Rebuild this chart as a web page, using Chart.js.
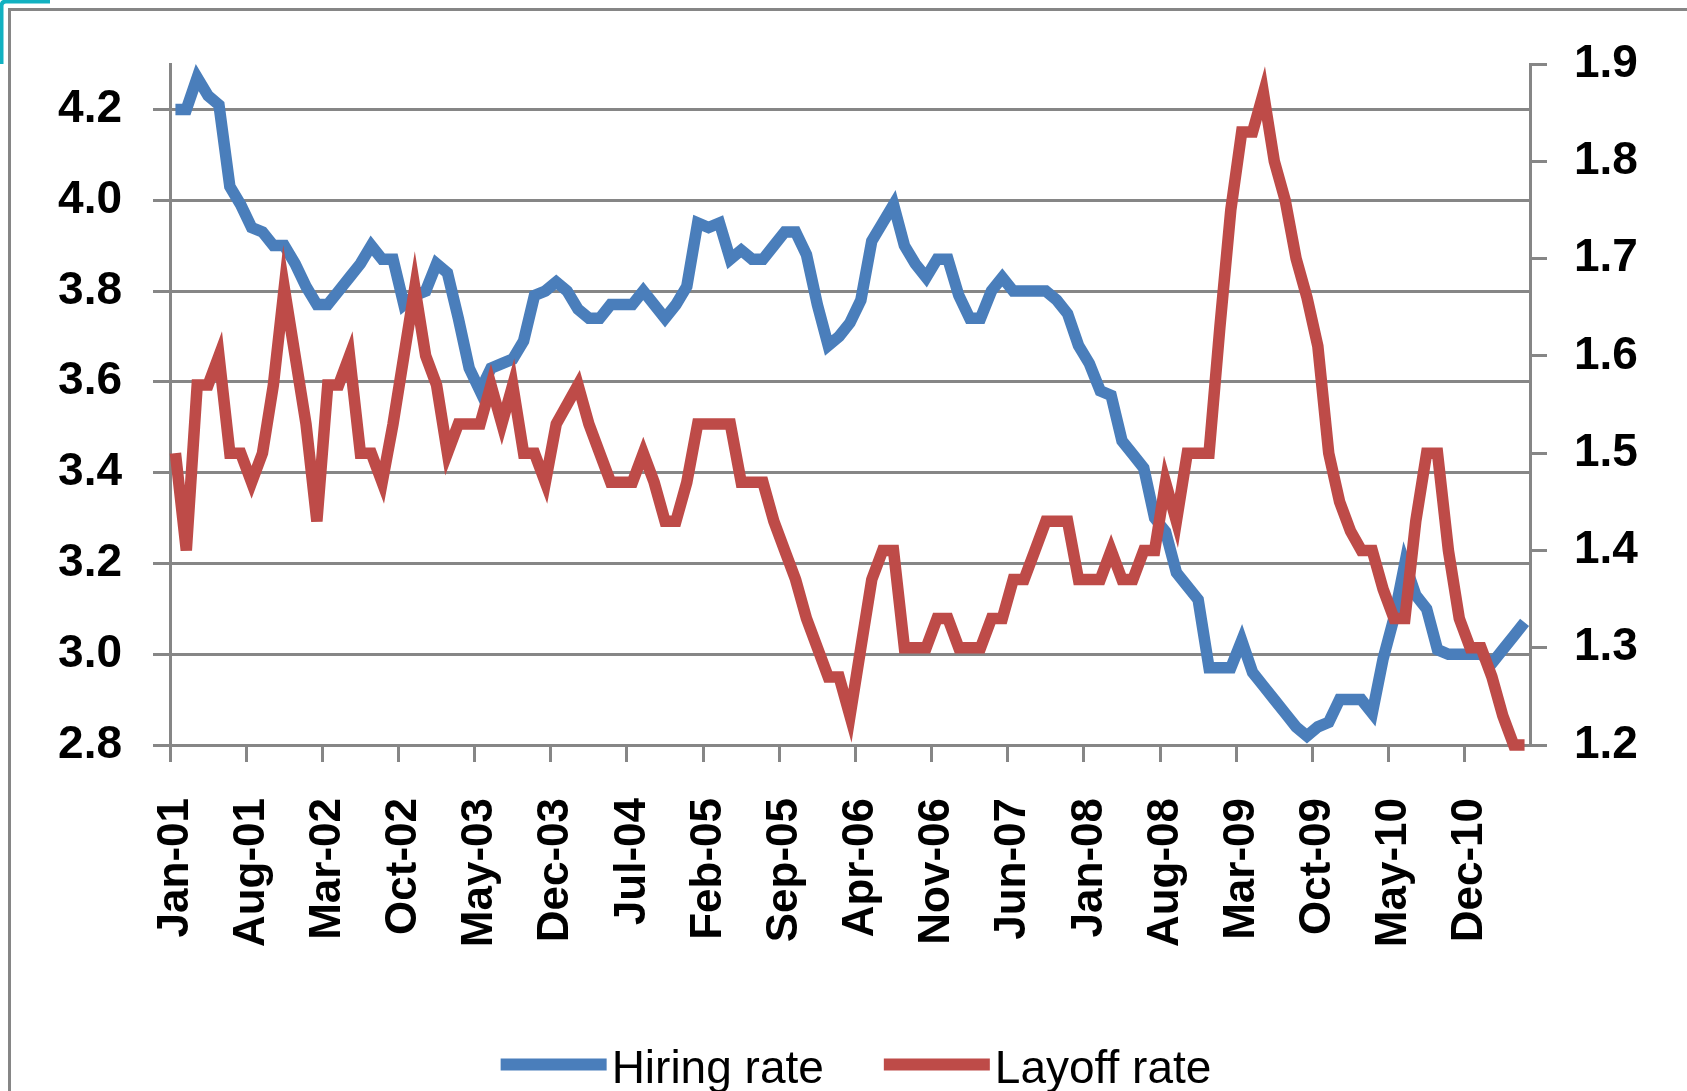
<!DOCTYPE html>
<html>
<head>
<meta charset="utf-8">
<script src="https://cdn.jsdelivr.net/npm/chart.js@4/dist/chart.umd.min.js"></script>
<style>
  html, body { margin: 0; padding: 0; background: #fff; }
  canvas { display: block; }
</style>
</head>
<body>
<canvas id="grafica" width="1687" height="1091" style="width:1687px;height:1091px"></canvas>
<script>
// monthly categories, Jan-01 .. May-11
const monthNames = ['Jan', 'Feb', 'Mar', 'Apr', 'May', 'Jun', 'Jul', 'Aug', 'Sep', 'Oct', 'Nov', 'Dec'];
const labels = [];
for (let y = 1; y <= 11; y++) {
    for (let m = 0; m < 12; m++) {
        if (y === 11 && m > 4) break;
        labels.push(monthNames[m] + '-' + String(y).padStart(2, '0'));
    }
}

const hiringRate = [
    4.20, 4.20, 4.27, 4.23, 4.21, 4.03, 3.99, 3.94, 3.93, 3.90,
    3.90, 3.86, 3.81, 3.77, 3.77, 3.80, 3.83, 3.86, 3.90, 3.87,
    3.87, 3.77, 3.79, 3.80, 3.86, 3.84, 3.74, 3.63, 3.58, 3.63,
    3.64, 3.65, 3.69, 3.79, 3.80, 3.82, 3.80, 3.76, 3.74, 3.74,
    3.77, 3.77, 3.77, 3.80, 3.77, 3.74, 3.77, 3.81, 3.95, 3.94,
    3.95, 3.87, 3.89, 3.87, 3.87, 3.90, 3.93, 3.93, 3.88, 3.77,
    3.68, 3.70, 3.73, 3.78, 3.91, 3.95, 3.99, 3.90, 3.86, 3.83,
    3.87, 3.87, 3.79, 3.74, 3.74, 3.80, 3.83, 3.80, 3.80, 3.80,
    3.80, 3.78, 3.75, 3.68, 3.64, 3.58, 3.57, 3.47, 3.44, 3.41,
    3.30, 3.27, 3.18, 3.15, 3.12, 2.97, 2.97, 2.97, 3.03, 2.96,
    2.93, 2.90, 2.87, 2.84, 2.82, 2.84, 2.85, 2.90, 2.90, 2.90,
    2.87, 2.99, 3.08, 3.20, 3.13, 3.10, 3.01, 3.00, 3.00, 3.00,
    3.00, 2.98, 3.01, 3.04, 3.07
];

const layoffRate = [
    1.50, 1.40, 1.57, 1.57, 1.60, 1.50, 1.50, 1.47, 1.50, 1.57,
    1.67, 1.60, 1.53, 1.43, 1.57, 1.57, 1.60, 1.50, 1.50, 1.47,
    1.53, 1.60, 1.67, 1.60, 1.57, 1.50, 1.53, 1.53, 1.53, 1.57,
    1.53, 1.57, 1.50, 1.50, 1.47, 1.53, 1.55, 1.57, 1.53, 1.50,
    1.47, 1.47, 1.47, 1.50, 1.47, 1.43, 1.43, 1.47, 1.53, 1.53,
    1.53, 1.53, 1.47, 1.47, 1.47, 1.43, 1.40, 1.37, 1.33, 1.30,
    1.27, 1.27, 1.23, 1.30, 1.37, 1.40, 1.40, 1.30, 1.30, 1.30,
    1.33, 1.33, 1.30, 1.30, 1.30, 1.33, 1.33, 1.37, 1.37, 1.40,
    1.43, 1.43, 1.43, 1.37, 1.37, 1.37, 1.40, 1.37, 1.37, 1.40,
    1.40, 1.47, 1.43, 1.50, 1.50, 1.50, 1.63, 1.75, 1.83, 1.83,
    1.87, 1.80, 1.76, 1.70, 1.66, 1.61, 1.50, 1.45, 1.42, 1.40,
    1.40, 1.36, 1.33, 1.33, 1.43, 1.50, 1.50, 1.40, 1.33, 1.30,
    1.30, 1.27, 1.23, 1.20, 1.20
];

const leftTicks = { min: 2.8, max: 4.3, step: 0.2 };
const rightTicks = { min: 1.2, max: 1.9, step: 0.1 };
const labelEvery = 7;

const gray = '#868686';
const font = '"Liberation Sans", Arial, sans-serif';

// outer frame of the chart object + the teal selection corner
const framePlugin = {
    id: 'frame',
    beforeDraw(chart) {
        const ctx = chart.ctx;
        ctx.save();
        ctx.fillStyle = '#fff';
        ctx.fillRect(0, 0, chart.width, chart.height);
        ctx.strokeStyle = gray;
        ctx.lineWidth = 3;
        ctx.beginPath();
        ctx.moveTo(9.5, chart.height);
        ctx.lineTo(9.5, 9.5);
        ctx.lineTo(chart.width, 9.5);
        ctx.stroke();
        ctx.strokeStyle = '#12b1c1';
        ctx.lineWidth = 4;
        ctx.beginPath();
        ctx.moveTo(1.5, 64);
        ctx.lineTo(1.5, 6);
        ctx.quadraticCurveTo(1.5, 1.5, 6, 1.5);
        ctx.lineTo(50, 1.5);
        ctx.stroke();
        ctx.restore();
    }
};

// legend drawn as Excel does it: long line sample and tight text
const legendPlugin = {
    id: 'lineLegend',
    afterDraw(chart) {
        const ctx = chart.ctx;
        const area = chart.chartArea;
        ctx.save();
        ctx.font = '46px ' + font;
        const sample = 106, gapText = 5, gapItem = 60;
        const items = chart.data.datasets.map(ds => ({
            text: ds.label, color: ds.borderColor, w: ctx.measureText(ds.label).width
        }));
        let total = gapItem * (items.length - 1);
        items.forEach(it => { total += sample + gapText + it.w; });
        let x = (area.left + area.right) / 2 + 6 - total / 2;
        const lineY = 1064.5, baseY = 1083;
        items.forEach(it => {
            ctx.strokeStyle = it.color;
            ctx.lineWidth = 12;
            ctx.beginPath();
            ctx.moveTo(x, lineY);
            ctx.lineTo(x + sample, lineY);
            ctx.stroke();
            ctx.fillStyle = '#000';
            ctx.textBaseline = 'alphabetic';
            ctx.textAlign = 'left';
            ctx.fillText(it.text, x + sample + gapText, baseY);
            x += sample + gapText + it.w + gapItem;
        });
        ctx.restore();
    }
};

const graph = document.querySelector('#grafica');

const data = {
    labels: labels,
    datasets: [
        {
            label: 'Hiring rate',
            data: hiringRate,
            yAxisID: 'y',
            borderColor: '#4a7ebb',
            backgroundColor: '#4a7ebb',
            borderWidth: 11.5,
            pointRadius: 0,
            tension: 0,
            clip: false,
            order: 2
        },
        {
            label: 'Layoff rate',
            data: layoffRate,
            yAxisID: 'y1',
            borderColor: '#be4b48',
            backgroundColor: '#be4b48',
            borderWidth: 11.5,
            pointRadius: 0,
            tension: 0,
            clip: false,
            order: 1
        }
    ]
};

const tickFont = { family: font, size: 46, weight: 'bold' };

const config = {
    type: 'line',
    data: data,
    plugins: [framePlugin, legendPlugin],
    options: {
        responsive: false,
        animation: false,
        devicePixelRatio: 1,
        layout: { padding: { top: 64, left: 0, right: 0, bottom: 60 } },
        plugins: {
            legend: { display: false },
            tooltip: { enabled: false }
        },
        scales: {
            x: {
                offset: true,
                afterFit: scale => { scale.height = 286; },
                grid: {
                    offset: true,
                    drawOnChartArea: false,
                    tickLength: 17,
                    lineWidth: 3,
                    color: c => (c.index % labelEvery === 0 ? gray : 'rgba(0,0,0,0)')
                },
                border: { color: gray, width: 3 },
                ticks: {
                    autoSkip: false,
                    maxRotation: 90,
                    minRotation: 90,
                    padding: 36,
                    color: '#000',
                    font: { family: font, size: 44, weight: 'bold' },
                    callback: (v, i) => (i % labelEvery === 0 ? labels[i] : '')
                }
            },
            y: {
                position: 'left',
                min: leftTicks.min,
                max: leftTicks.max,
                afterFit: scale => { scale.width = 170; },
                grid: { color: gray, lineWidth: 3, tickLength: 17 },
                border: { color: gray, width: 3 },
                ticks: {
                    stepSize: leftTicks.step,
                    includeBounds: false,
                    padding: 31,
                    color: '#000',
                    font: tickFont,
                    callback: v => Number(v).toFixed(1)
                }
            },
            y1: {
                position: 'right',
                min: rightTicks.min,
                max: rightTicks.max,
                afterFit: scale => { scale.width = 157; },
                grid: { drawOnChartArea: false, color: gray, lineWidth: 3, tickLength: 17 },
                border: { color: gray, width: 3 },
                ticks: {
                    stepSize: rightTicks.step,
                    padding: 27,
                    color: '#000',
                    font: tickFont,
                    callback: v => Number(v).toFixed(1)
                }
            }
        }
    }
};

new Chart(graph, config);
</script>
</body>
</html>
